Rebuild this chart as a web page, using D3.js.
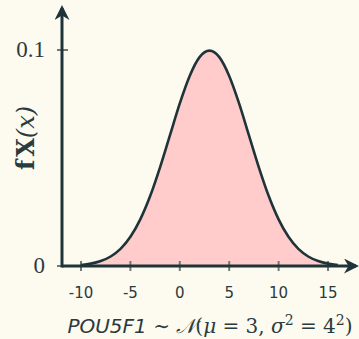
<!DOCTYPE html>
<html lang="en">
<head>
  <meta charset="utf-8">
  <script src="https://d3js.org/d3.v7.min.js"></script>
  <style>
    body { margin: 0; background: #fdfbf0; }
    svg { display: block; }
  </style>
</head>
<body>
<div id="chart"></div>
<script>
  // density values of POU5F1 ~ N(3, 4^2)
  var xs = [-10, -9, -8, -7, -6, -5, -4, -3, -2, -1, 0, 1, 2, 3, 4, 5, 6, 7, 8, 9, 10, 11, 12, 13, 14, 15, 16];
  var ys = [0.0005, 0.0011, 0.0023, 0.0044, 0.0079, 0.0135, 0.0216, 0.0324, 0.0457, 0.0605, 0.0753, 0.0880, 0.0967, 0.0997,
            0.0967, 0.0880, 0.0753, 0.0605, 0.0457, 0.0324, 0.0216, 0.0135, 0.0079, 0.0044, 0.0023, 0.0011, 0.0005];
  var xTicks = [-10, -5, 0, 5, 10, 15];
  var yTicks = [0, 0.1];
  var yTickLabels = ["0", "0.1"];

  var W = 359, H = 339;
  var dark = "#1f3438";
  var serif = "'DejaVu Serif', serif";

  var svg = d3.select("#chart").append("svg")
      .attr("width", W).attr("height", H);

  svg.append("defs").append("marker")
      .attr("id", "arrow")
      .attr("viewBox", "0 0 10 10")
      .attr("refX", 8).attr("refY", 5)
      .attr("markerWidth", 5).attr("markerHeight", 5)
      .attr("markerUnits", "strokeWidth")
      .attr("orient", "auto")
    .append("path")
      .attr("d", "M0,0 L10,5 L0,10 L3,5 Z")
      .attr("fill", dark);

  var x = d3.scaleLinear().domain([-10, 15]).range([81, 328]);
  var y = d3.scaleLinear().domain([0, 0.1]).range([266, 50]);

  var data = xs.map((v, i) => ({x: v, y: ys[i]}));

  // filled area under the curve
  svg.append("path")
      .datum(data)
      .attr("fill", "#ffcbcb")
      .attr("d", d3.area().x(d => x(d.x)).y0(y(0)).y1(d => y(d.y)).curve(d3.curveMonotoneX));

  // ticks
  svg.selectAll(".xt").data(xTicks).enter().append("line")
      .attr("x1", d => x(d)).attr("x2", d => x(d))
      .attr("y1", y(0) - 5).attr("y2", y(0) + 5)
      .attr("stroke", "#6f7b7b").attr("stroke-width", 2);
  svg.selectAll(".yt").data(yTicks).enter().append("line")
      .attr("x1", 57).attr("x2", 68)
      .attr("y1", d => y(d)).attr("y2", d => y(d))
      .attr("stroke", "#6f7b7b").attr("stroke-width", 2);

  // curve
  svg.append("path")
      .datum(data)
      .attr("fill", "none")
      .attr("stroke", dark)
      .attr("stroke-width", 2.6)
      .attr("d", d3.line().x(d => x(d.x)).y(d => y(d.y)).curve(d3.curveMonotoneX));

  // axes with arrows
  svg.append("line")
      .attr("x1", 62).attr("x2", 356).attr("y1", y(0)).attr("y2", y(0))
      .attr("stroke", dark).attr("stroke-width", 3)
      .attr("marker-end", "url(#arrow)");
  svg.append("line")
      .attr("x1", 62).attr("x2", 62).attr("y1", y(0) + 1.5).attr("y2", 8)
      .attr("stroke", dark).attr("stroke-width", 3)
      .attr("marker-end", "url(#arrow)");

  // tick labels
  svg.selectAll(".xl").data(xTicks).enter().append("text")
      .attr("x", d => x(d)).attr("y", 298)
      .attr("text-anchor", "middle")
      .attr("font-family", "'DejaVu Sans', sans-serif")
      .attr("font-size", 15)
      .attr("fill", "#2b3a3d")
      .text(d => d);
  svg.selectAll(".yl").data(yTicks).enter().append("text")
      .attr("x", 45).attr("y", d => y(d) + 7)
      .attr("text-anchor", "end")
      .attr("font-family", "'Liberation Serif', serif")
      .attr("font-size", 23)
      .attr("fill", "#2b3a3d")
      .text((d, i) => yTickLabels[i]);

  // axis titles
  var yl = svg.append("text")
      .attr("transform", "translate(34,138) rotate(-90)")
      .attr("text-anchor", "middle")
      .attr("font-family", serif)
      .attr("font-size", 24)
      .attr("fill", "#2b3a3d");
  yl.append("tspan").attr("font-weight", "bold").text("f");
  yl.append("tspan").attr("font-weight", "bold").attr("dx", 3).text("X");
  yl.append("tspan").attr("font-style", "italic").text("(x)");

  var xl = svg.append("text")
      .attr("x", 210).attr("y", 333)
      .attr("text-anchor", "middle")
      .attr("font-size", 20)
      .attr("font-family", serif)
      .attr("fill", "#2b3a3d");
  xl.append("tspan").attr("font-family", "'DejaVu Sans', sans-serif").attr("font-style", "italic").text("POU5F1");
  xl.append("tspan").text(" ∼ ");
  xl.append("tspan").attr("font-style", "italic").text("𝒩");
  xl.append("tspan").text("(");
  xl.append("tspan").attr("font-style", "italic").text("μ");
  xl.append("tspan").text(" = 3, ");
  xl.append("tspan").attr("font-style", "italic").text("σ");
  xl.append("tspan").attr("font-size", 14).attr("dy", -8).text("2");
  xl.append("tspan").attr("dy", 8).text(" = 4");
  xl.append("tspan").attr("font-size", 14).attr("dy", -8).text("2");
  xl.append("tspan").attr("dy", 8).text(")");
</script>
</body>
</html>
